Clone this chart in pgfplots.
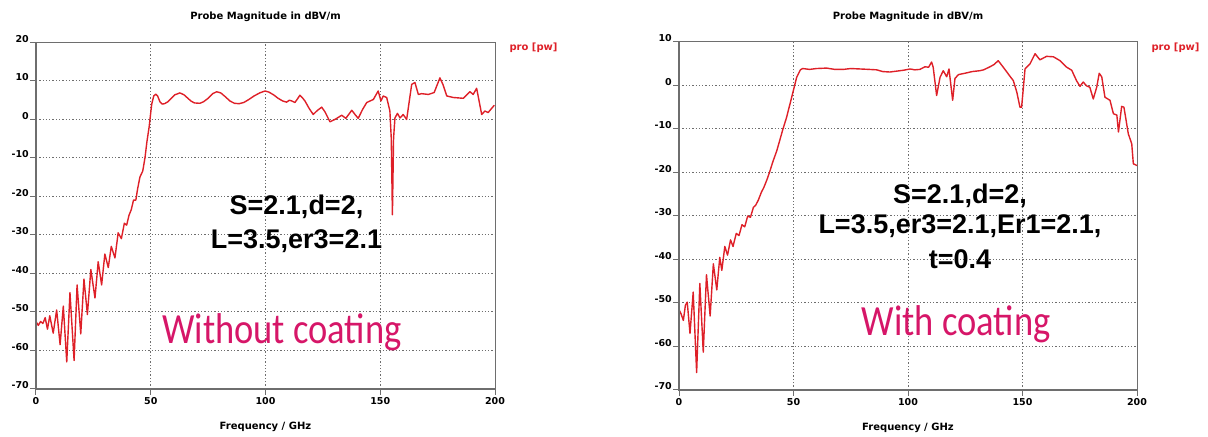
\documentclass[border=0pt]{standalone}
\usepackage{pgfplots}
\pgfplotsset{compat=1.18}
\usepackage{fontspec}
\setmainfont{Liberation Sans}
\newfontfamily\calib{Carlito}
\newfontfamily\smallbold{DejaVu Sans}
\definecolor{curve}{RGB}{222,32,40}
\definecolor{pinktxt}{RGB}{214,22,104}
\definecolor{gridc}{RGB}{110,110,110}

\pgfplotsset{probe/.style={
  scale only axis, anchor=south west,
  xmin=0, xmax=200, xtick={0,50,...,200},
  grid=major,
  grid style={gridc, line width=1pt, dash pattern=on 1.3pt off 2pt},
  axis line style={gridc, line width=1pt},
  tick align=outside, xtick pos=bottom, ytick pos=left,
  major tick length=6pt,
  tick style={gridc, line width=1pt},
  tick label style={font=\smallbold\fontsize{9.5}{11}\selectfont\bfseries},
  /pgf/number format/assume math mode=true,
  yticklabel style={anchor=base east, inner sep=1pt},
  xticklabel style={inner sep=2pt},
  clip=false,
}}
\newcommand{\lab}{\smallbold\fontsize{10}{12}\selectfont\bfseries}

\begin{document}
\begin{tikzpicture}
\path (0pt,0pt) rectangle (1208pt,435pt);

% ---- without coating
\begin{axis}[probe, at={(36pt,46pt)}, width=459pt, height=347pt,
  ymin=-70, ymax=20, ytick={-70,-60,...,20}]
\addplot[curve, line width=1.4pt, line join=round] coordinates {
(0,-52.5)(1,-53.5)(2,-52.5)(3,-53)(4,-51.5)(5,-54.5)(6,-51)(7.5,-55.5)(9,-49.5)
(10.5,-58.5)(11.9,-48.5)(13.4,-63)(14.8,-45)(16.6,-62.6)(17.9,-43)(19.5,-55.7)
(20.9,-41.5)(22.4,-50.7)(23.9,-39)(25.7,-46.4)(27.1,-37)(28.6,-43)(30,-35)
(31.5,-38.5)(32.8,-33)(34.4,-36)(35.8,-29.5)(37.2,-31)(38.5,-27)(39.5,-27.5)
(40.5,-25)(41.5,-23.5)(42.5,-21)(43.5,-21)(44.3,-18)(45.3,-15)(46.5,-13.5)
(47.5,-10)(48.3,-6)(49.3,-2)(50.4,3.8)(51.3,6)(52.2,6.5)(53,6)(54,4.5)(55,3.9)
(56,4)(57.5,4.5)(59,5.4)(60.5,6.3)(62.7,6.8)(64.5,6.3)(66,5.5)(67.5,4.7)(69,4.2)
(71.4,4.1)(73,4.5)(75,5.4)(77,6.6)(78.7,7.1)(80.5,6.8)(82.5,5.8)(84.5,4.7)
(86.5,4.1)(88.5,4)(90.5,4.3)(92.5,5)(95,6)(97.5,6.8)(99.8,7.3)(101.5,7)(103.5,6.3)
(105.5,5.4)(107.5,4.7)(109.2,4.4)(110.4,4.9)(111.5,4.7)(112.8,4.3)(114,5.3)
(115,6.2)(116,5.6)(117.2,4.7)(119,2.8)(120.8,1.2)(122.5,2.2)(124.5,3.1)(126,1.8)
(128.1,-0.7)(130.5,0)(133.2,1)(135,0.2)(137.6,2.3)(139,1.2)(140.4,0.2)(142.3,2.5)
(144.1,4.3)(147,5.1)(149.1,7.3)(150.3,4.7)(151.3,6)(152.8,5.6)(154.2,2.1)(154.8,-5)
(155.3,-24.8)(155.8,-5)(156.4,0.3)(157.5,1.5)(158.6,0.3)(160,1.2)(161.5,-0.1)
(163.7,9)(165.1,9.5)(166.6,6.4)(168,6.6)(171,6.4)(173.5,6.9)(176,10.7)(177.3,9)
(179,6)(181.9,5.6)(186.2,5.4)(189.1,7.1)(190.5,6.4)(192,8)(194.2,1.2)(195.6,2.1)
(197,1.7)(199.7,3.6)
};
\draw[gridc, line width=1.8pt] (rel axis cs:0,1) -- (rel axis cs:0,0) -- (rel axis cs:1,0);
\node[font=\lab] at (rel axis cs:0.5,1) [yshift=25pt] {Probe Magnitude in dBV/m};
\node[font=\lab, text=curve, anchor=west] at (rel axis cs:1,1) [xshift=11pt, yshift=-6pt] {pro [pw]};
\node[font=\lab] at (rel axis cs:0.5,0) [yshift=-38pt] {Frequency / GHz};
\node[font=\fontsize{27}{33}\selectfont\bfseries, anchor=base] at (axis cs:113.5,-24.7) {S=2.1,d=2,};
\node[font=\fontsize{27}{33}\selectfont\bfseries, anchor=base] at (axis cs:113.5,-33.5) {L=3.5,er3=2.1};
\node[anchor=base, text=pinktxt] at (axis cs:107.2,-58.2) {\scalebox{1}[1.18]{\calib\fontsize{36.5}{40}\selectfont Without coating}};
\end{axis}

% ---- with coating
\begin{axis}[probe, at={(679pt,45pt)}, width=458pt, height=348pt,
  ymin=-70, ymax=10, ytick={-70,-60,...,10}]
\addplot[curve, line width=1.4pt, line join=round] coordinates {
(0,-51.5)(0.9,-52.5)(1.9,-54)(2.8,-50.5)(3.6,-49.8)(4.8,-57)(6.2,-47.5)(7.7,-66)
(9.1,-45.5)(10.6,-61.3)(12,-43.5)(13.6,-53)(15,-41)(16.5,-47)(17.8,-39.5)
(18.7,-42.5)(20,-37)(21.2,-39)(22.5,-35.5)(23.6,-37)(25,-34)(26.2,-34.5)
(27.5,-32)(28.7,-32.5)(30,-30)(31.2,-30.3)(32.5,-28)(33.5,-27.5)(34.6,-26.4)
(36,-24.5)(37,-23.5)(38.3,-21.8)(39.5,-20)(41,-17.5)(42.7,-15)(45.4,-10)
(47,-7.3)(49.2,-2.7)(51.4,1.9)(53,3.6)(54,3.9)(57,3.7)(60,3.9)(64.5,4)(68,3.7)
(71.8,3.7)(75,3.9)(79,3.8)(83,3.7)(86.3,3.6)(89,3.2)(92.1,3.1)(95,3.3)(98,3.5)
(100.9,3.8)(103,3.6)(105.2,3.7)(107.4,4.3)(109,4.2)(110.3,5.4)(111,4.2)
(112.5,-2.3)(114,1.9)(115.4,3.4)(116.9,2)(117.9,3.8)(119.5,-3.4)(120.5,1.6)
(122,2.5)(125.6,2.9)(128,3.2)(131.4,3.4)(133,3.6)(135.8,4.3)(137.5,4.8)
(139.4,5.7)(141.6,4.2)(144,2.5)(146,1.1)(147.5,-1.5)(148.9,-5)(149.6,-5)
(150.3,-1)(151.1,3.8)(153.3,5)(155.5,7.3)(157.6,5.9)(160.5,6.7)(163.5,6.6)
(166.4,5.7)(169.3,4.2)(171.5,3.5)(173.6,1.1)(175.1,-0.2)(176.5,0.8)(178,-0.1)
(179.4,-0.4)(180.9,-3.1)(182.4,-0.4)(183.5,2.8)(184.6,2)(186,-2.7)(188.2,-3.4)
(189.7,-6.5)(191.2,-6.8)(191.9,-10.7)(193.3,-4.8)(194.3,-5)(196.2,-11.1)
(197.7,-13.4)(198.4,-18)(200,-18.4)
};
\draw[gridc, line width=1.8pt] (rel axis cs:0,1) -- (rel axis cs:0,0) -- (rel axis cs:1,0);
\node[font=\lab] at (rel axis cs:0.5,1) [yshift=25pt] {Probe Magnitude in dBV/m};
\node[font=\lab, text=curve, anchor=west] at (rel axis cs:1,1) [xshift=11pt, yshift=-6pt] {pro [pw]};
\node[font=\lab] at (rel axis cs:0.5,0) [yshift=-38pt] {Frequency / GHz};
\node[font=\fontsize{27}{33}\selectfont\bfseries, anchor=base] at (axis cs:122.7,-27.1) {S=2.1,d=2,};
\node[font=\fontsize{27}{33}\selectfont\bfseries, anchor=base] at (axis cs:122.7,-34.0) {L=3.5,er3=2.1,Er1=2.1,};
\node[font=\fontsize{27}{33}\selectfont\bfseries, anchor=base] at (axis cs:122.7,-42.1) {t=0.4};
\node[anchor=base, text=pinktxt] at (axis cs:121,-57.5) {\scalebox{1}[1.18]{\calib\fontsize{36.5}{40}\selectfont With coating}};
\end{axis}
\end{tikzpicture}
\end{document}
